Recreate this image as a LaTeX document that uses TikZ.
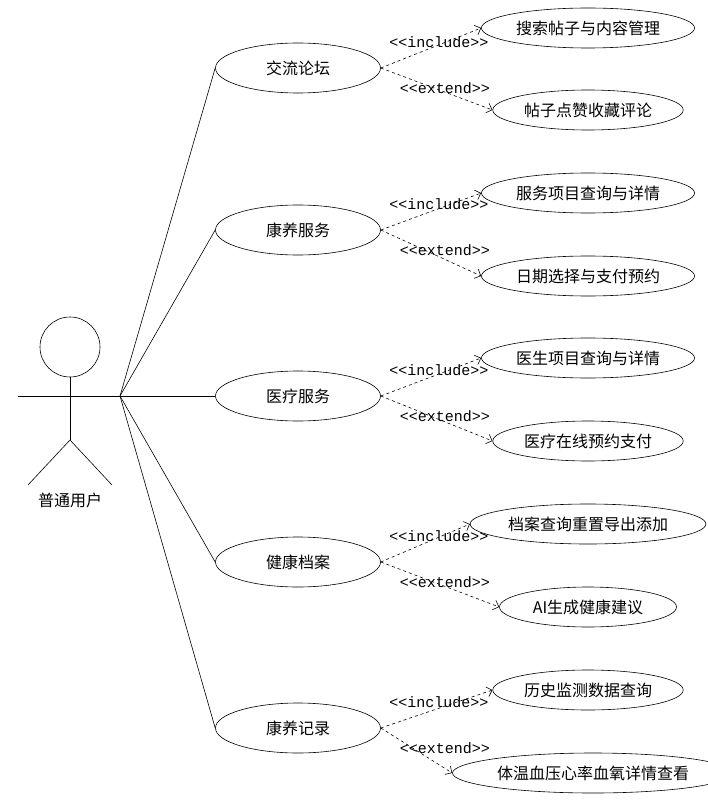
\documentclass[tikz,border=0pt]{standalone}
\usepackage{fontspec}
\newfontfamily\cjk{Noto Sans CJK SC}
\setmonofont{Liberation Mono}
\usetikzlibrary{shapes.geometric, arrows.meta}
\tikzset{
x=1pt, y=-1pt,
UseCase/.style={
	draw, ellipse, semithick,
	minimum width=165pt, minimum height=50pt,
	font=\cjk\fontsize{16}{16}\selectfont
},
SubCase/.style={
	UseCase,
	minimum width=177pt, minimum height=40pt
},
Assoc/.style={
	draw=black
},
Dep/.style={
	draw=black, dashed, semithick, -{Straight Barb[length=5pt]}
},
Stereo/.style={
	font=\ttfamily\fontsize{15}{15}\selectfont
}
}

\begin{document}
\begin{tikzpicture}
	\useasboundingbox (0,0) rectangle (707,802);
	% actor
	\draw[semithick] (70,347) circle (30);
	\draw[semithick] (70,377) -- (70,440);
	\draw[semithick] (18,396) -- (120,396);
	\draw[semithick] (28,485) -- (70,440) -- (112,485);
	\coordinate (hand) at (120,396);
	\node[font=\cjk\fontsize{16}{16}\selectfont] (user) at (70,500) {普通用户};

	\node[UseCase] (forum) at (298,68) {交流论坛};
	\node[UseCase] (care) at (298,230) {康养服务};
	\node[UseCase] (med) at (298,396) {医疗服务};
	\node[UseCase] (file) at (298,562) {健康档案};
	\node[UseCase] (log) at (298,728) {康养记录};

	\node[SubCase] (forumA) at (588,28) {搜索帖子与内容管理};
	\node[SubCase] (forumB) at (588,110) {帖子点赞收藏评论};
	\node[SubCase] (careA) at (588,193) {服务项目查询与详情};
	\node[SubCase] (careB) at (588,276) {日期选择与支付预约};
	\node[SubCase] (medA) at (588,358) {医生项目查询与详情};
	\node[SubCase] (medB) at (588,441) {医疗在线预约支付};
	\node[SubCase] (fileA) at (588,524) {档案查询重置导出添加};
	\node[SubCase] (fileB) at (588,607) {AI生成健康建议};
	\node[SubCase] (logA) at (588,690) {历史监测数据查询};
	\node[SubCase, minimum width=221pt] (logB) at (593,773) {体温血压心率血氧详情查看};

	\foreach \u/\a/\b in {forum/forumA/forumB, care/careA/careB, med/medA/medB, file/fileA/fileB, log/logA/logB} {
		\draw[Assoc, semithick] (hand) -- (\u.west);
		\draw[Dep] (\u.east) -- (\a.west);
		\draw[Dep] (\u.east) -- (\b.west);
		\node[Stereo] at ([xshift=58pt,yshift=26pt]\u.east) {<{}<include>{}>};
		\node[Stereo] at ([xshift=64pt,yshift=-20pt]\u.east) {<{}<extend>{}>};
	}
\end{tikzpicture}
\end{document}
